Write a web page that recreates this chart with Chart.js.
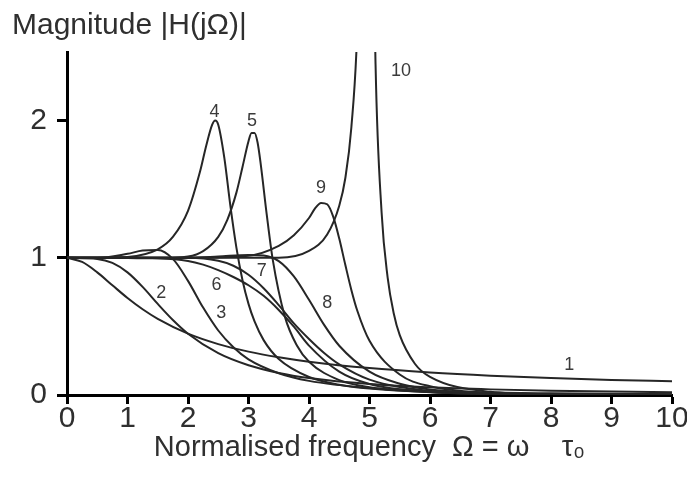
<!DOCTYPE html>
<html>
<head>
<meta charset="utf-8">
<script src="https://cdn.jsdelivr.net/npm/chart.js@4.4.0/dist/chart.umd.min.js"></script>
<style>
  html, body { margin: 0; padding: 0; background: #fff; }
  #wrap { width: 687px; height: 477px; }
</style>
</head>
<body>
<div id="wrap"><canvas id="magChart" width="687" height="477"></canvas></div>
<script>
// normalised frequency (x) and magnitude (y), one pair per curve
const w1 = [0, 0.25, 0.5, 0.75, 1, 1.25, 1.5, 2, 2.5, 3, 3.5, 4, 5, 6, 7, 8, 9, 10];
const m1 = [1, 0.97, 0.894, 0.8, 0.707, 0.625, 0.555, 0.447, 0.371, 0.316, 0.275, 0.243, 0.196, 0.164, 0.141, 0.124, 0.11, 0.1];

const w2 = [0, 0.5, 0.75, 1, 1.25, 1.5, 1.75, 2, 2.5, 3, 3.5, 4, 5, 6, 7, 8, 10];
const m2 = [1, 0.992, 0.963, 0.894, 0.788, 0.664, 0.547, 0.447, 0.305, 0.217, 0.161, 0.124, 0.08, 0.056, 0.041, 0.031, 0.02];

const w3 = [0, 0.5, 1, 1.25, 1.5, 1.75, 2, 2.25, 2.5, 2.75, 3, 3.5, 4, 5, 6, 8, 10];
const m3 = [1, 0.998, 1.029, 1.053, 1.057, 0.992, 0.832, 0.637, 0.47, 0.348, 0.26, 0.159, 0.103, 0.051, 0.029, 0.012, 0.006];

const w4 = [0, 0.5, 1, 1.5, 1.75, 2, 2.2, 2.3, 2.4, 2.45, 2.5, 2.6, 2.7, 2.8, 2.9, 3, 3.1, 3.25, 3.5, 4, 4.5, 5, 6, 8, 10];
const m4 = [1, 1, 1.006, 1.062, 1.152, 1.342, 1.63, 1.815, 1.97, 2.0, 1.97, 1.73, 1.38, 1.074, 0.838, 0.664, 0.536, 0.4, 0.262, 0.131, 0.075, 0.047, 0.021, 0.006, 0.0025];

const w5 = [0, 1, 1.5, 2, 2.25, 2.5, 2.65, 2.8, 2.9, 3, 3.05, 3.1, 3.15, 3.2, 3.3, 3.4, 3.6, 3.8, 4, 4.5, 5, 6, 7, 8, 10];
const m5 = [1, 0.999, 0.996, 1.009, 1.049, 1.153, 1.277, 1.475, 1.66, 1.85, 1.91, 1.91, 1.84, 1.69, 1.32, 0.988, 0.573, 0.361, 0.243, 0.108, 0.056, 0.02, 0.0085, 0.004, 0.0015];

const w6 = [0, 1, 1.5, 2, 2.25, 2.5, 2.75, 3, 3.25, 3.5, 3.75, 4, 4.5, 5, 6, 7, 8, 10];
const m6 = [1, 1, 0.997, 0.977, 0.95, 0.91, 0.86, 0.8, 0.723, 0.62, 0.498, 0.36, 0.17, 0.08, 0.022, 0.008, 0.003, 0.001];

const w7 = [0, 1, 2, 2.5, 2.75, 3, 3.25, 3.5, 3.75, 4, 4.25, 4.5, 5, 6, 7, 8, 10];
const m7 = [1, 1, 1, 0.978, 0.942, 0.876, 0.778, 0.655, 0.522, 0.408, 0.306, 0.223, 0.112, 0.029, 0.009, 0.003, 0.001];

const w8 = [0, 1, 2, 2.5, 3, 3.25, 3.5, 3.75, 4, 4.25, 4.5, 5, 5.5, 6, 7, 8, 10];
const m8 = [1, 1, 1, 1.009, 1.021, 1.017, 0.976, 0.864, 0.694, 0.511, 0.359, 0.17, 0.082, 0.04, 0.011, 0.004, 0.001];

const w9 = [0, 1, 2, 3, 3.5, 3.75, 4, 4.1, 4.2, 4.3, 4.4, 4.5, 4.6, 4.7, 4.8, 5, 5.5, 6, 7, 8, 10];
const m9 = [1, 1, 1, 1.015, 1.087, 1.164, 1.29, 1.36, 1.4, 1.39, 1.3, 1.14, 0.949, 0.766, 0.612, 0.395, 0.149, 0.064, 0.015, 0.004, 0.001];

const w10 = [0, 1, 2, 3, 3.5, 4, 4.3, 4.5, 4.6, 4.7, 4.8, 4.9, 5, 5.1, 5.2, 5.3, 5.4, 5.5, 5.75, 6, 7, 8, 10];
const m10 = [1, 1, 1, 1, 1, 1.05, 1.17, 1.38, 1.58, 1.95, 2.69, 4.6, 5.4, 2.41, 1.33, 0.856, 0.596, 0.436, 0.228, 0.132, 0.023, 0.0055, 0.0005];

const xTicks = [0, 1, 2, 3, 4, 5, 6, 7, 8, 9, 10];
const yTicks = [0, 1, 2];

// curve numbers and where they sit (data units)
const curveNames = ['1', '2', '3', '4', '5', '6', '7', '8', '9', '10'];
const nameX = [8.3, 1.56, 2.55, 2.44, 3.06, 2.47, 3.22, 4.3, 4.2, 5.52];
const nameY = [0.22, 0.74, 0.6, 2.06, 2.0, 0.8, 0.9, 0.67, 1.51, 2.36];

const curves = [[w1, m1], [w2, m2], [w3, m3], [w4, m4], [w5, m5],
                [w6, m6], [w7, m7], [w8, m8], [w9, m9], [w10, m10]];

const FONT = '"Liberation Sans", Arial, Helvetica, sans-serif';

const curveNamePlugin = {
    id: 'curveNames',
    afterDatasetsDraw(chart) {
        const {ctx, scales: {x, y}} = chart;
        ctx.save();
        ctx.font = '18px ' + FONT;
        ctx.fillStyle = '#3a3a3a';
        ctx.textAlign = 'center';
        ctx.textBaseline = 'middle';
        curveNames.forEach((t, i) => {
            ctx.fillText(t, x.getPixelForValue(nameX[i]), y.getPixelForValue(nameY[i]));
        });
        ctx.restore();
    }
};

const ctx = document.getElementById('magChart').getContext('2d');
new Chart(ctx, {
    type: 'line',
    data: {
        datasets: curves.map(([w, m], i) => ({
            label: curveNames[i],
            data: w.map((v, k) => ({x: v, y: m[k]})),
            borderColor: '#262626',
            borderWidth: 2,
            pointRadius: 0,
            fill: false,
            cubicInterpolationMode: 'monotone'
        }))
    },
    options: {
        responsive: false,
        animation: false,
        devicePixelRatio: 1,
        layout: { padding: { left: 12, right: 15, top: 0, bottom: 0 } },
        plugins: {
            legend: { display: false },
            tooltip: { enabled: false },
            title: {
                display: true,
                text: 'Magnitude |H(jΩ)|',
                align: 'start',
                color: '#2f2f2f',
                font: { family: FONT, size: 30, weight: 'normal' },
                padding: { top: 8, bottom: 8 }
            }
        },
        scales: {
            x: {
                type: 'linear',
                min: 0,
                max: 10,
                afterBuildTicks: s => { s.ticks = xTicks.map(v => ({value: v})); },
                afterFit: s => { s.height = 82; },
                ticks: {
                    color: '#2f2f2f',
                    font: { family: FONT, size: 30 },
                    padding: -3,
                    maxRotation: 0,
                    autoSkip: false
                },
                grid: { drawOnChartArea: false, drawTicks: true, tickLength: 9, tickColor: '#000', tickWidth: 3 },
                border: { display: true, color: '#000', width: 3 },
                title: {
                    display: true,
                    text: 'Normalised frequency  Ω = ω    τ₀',
                    color: '#2f2f2f',
                    font: { family: FONT, size: 29 },
                    padding: { top: 0, bottom: 12 }
                }
            },
            y: {
                type: 'linear',
                min: 0,
                max: 2.5,
                afterBuildTicks: s => { s.ticks = yTicks.map(v => ({value: v})); },
                afterFit: s => { s.width = 55; },
                ticks: {
                    color: '#2f2f2f',
                    font: { family: FONT, size: 30 },
                    padding: 10
                },
                grid: { drawOnChartArea: false, drawTicks: true, tickLength: 10, tickColor: '#000', tickWidth: 3 },
                border: { display: true, color: '#000', width: 3 }
            }
        }
    },
    plugins: [curveNamePlugin]
});
</script>
</body>
</html>
